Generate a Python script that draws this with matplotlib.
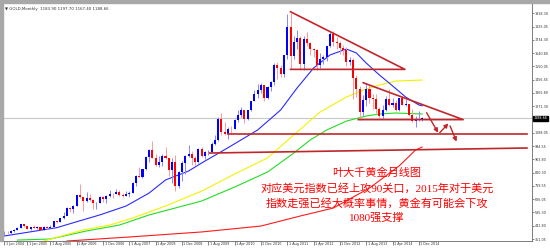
import numpy as np
import pandas as pd
import matplotlib
matplotlib.use('Agg')
import matplotlib.pyplot as plt
import matplotlib.transforms as mtrans
from matplotlib.patches import Rectangle

# monthly candles, Jun 2004 .. Jan 2015
months = pd.date_range('2004-06-01', '2015-01-01', freq='MS')

opens = [393, 395, 391, 408, 415, 428, 453,
         438, 422, 434, 428, 435, 417, 436, 429, 433, 473, 470, 495,
         513, 568, 556, 583, 654, 643, 614, 633, 623, 599, 604, 646,
         632, 650, 665, 663, 680, 659, 650, 666, 673, 743, 789, 783,
         834, 923, 971, 916, 865, 886, 930, 914, 833, 884, 717, 815,
         882, 927, 942, 916, 883, 979, 927, 954, 955, 1008, 1040, 1182,
         1096, 1081, 1118, 1113, 1180, 1212, 1244, 1181, 1248, 1308, 1357, 1385,
         1421, 1332, 1409, 1439, 1556, 1536, 1500, 1628, 1826, 1620, 1722, 1746,
         1565, 1738, 1710, 1669, 1664, 1561, 1604, 1614, 1691, 1773, 1719, 1713,
         1675, 1663, 1578, 1595, 1472, 1393, 1234, 1313, 1395, 1327, 1323, 1253,
         1202, 1244, 1326, 1284, 1296, 1250, 1327, 1282, 1287, 1210, 1172, 1183,
         1183.90]
highs = [405, 410, 415, 419, 434, 456, 456,
         438, 437, 446, 438, 437, 441, 439, 448, 474, 479, 497, 541,
         573, 574, 585, 655, 730, 646, 677, 663, 630, 610, 650, 649,
         655, 690, 672, 696, 691, 672, 684, 684, 747, 795, 848, 838,
         928, 976, 1033, 941, 929, 939, 988, 916, 913, 935, 823, 890,
         931, 1006, 964, 924, 983, 990, 961, 966, 1024, 1070, 1195, 1227,
         1162, 1127, 1139, 1182, 1249, 1265, 1244, 1250, 1310, 1388, 1424, 1432,
         1423, 1411, 1447, 1575, 1577, 1560, 1632, 1912, 1921, 1764, 1803, 1763,
         1764, 1791, 1717, 1680, 1668, 1640, 1630, 1692, 1790, 1796, 1755, 1723,
         1696, 1681, 1617, 1605, 1488, 1416, 1348, 1434, 1424, 1361, 1361, 1267,
         1280, 1345, 1392, 1331, 1315, 1332, 1345, 1324, 1287, 1255, 1208, 1238,
         1197.70]
lows = [381, 386, 388, 397, 411, 425, 431,
        418, 411, 424, 421, 414, 414, 418, 426, 432, 460, 466, 490,
        515, 538, 535, 581, 635, 543, 605, 612, 560, 561, 604, 610,
        603, 645, 637, 662, 651, 640, 648, 645, 670, 719, 780, 774,
        832, 883, 911, 860, 849, 855, 909, 786, 740, 681, 705, 752,
        802, 918, 865, 866, 878, 918, 905, 935, 952, 1003, 1033, 1075,
        1074, 1044, 1088, 1112, 1162, 1201, 1157, 1176, 1243, 1308, 1331, 1362,
        1309, 1325, 1382, 1417, 1462, 1477, 1478, 1601, 1534, 1604, 1671, 1523,
        1528, 1690, 1627, 1612, 1527, 1540, 1564, 1587, 1685, 1692, 1672, 1635,
        1627, 1555, 1562, 1321, 1338, 1180, 1208, 1272, 1292, 1251, 1227, 1187,
        1182, 1238, 1277, 1268, 1240, 1241, 1281, 1273, 1206, 1161, 1132, 1170,
        1167.40]
closes = [395, 391, 408, 415, 428, 453, 438,
          422, 434, 428, 435, 417, 436, 429, 433, 473, 470, 495, 513,
          568, 556, 583, 654, 643, 614, 633, 623, 599, 604, 646, 632,
          650, 665, 663, 680, 659, 650, 666, 673, 743, 789, 783, 834,
          923, 971, 916, 865, 886, 930, 914, 833, 884, 717, 815, 882,
          927, 942, 916, 883, 979, 927, 954, 955, 1008, 1040, 1182, 1096,
          1081, 1118, 1113, 1180, 1212, 1244, 1181, 1248, 1308, 1357, 1385, 1421,
          1332, 1409, 1439, 1556, 1536, 1500, 1628, 1826, 1620, 1722, 1746, 1565,
          1738, 1710, 1669, 1664, 1561, 1604, 1614, 1691, 1773, 1719, 1713, 1675,
          1663, 1578, 1595, 1472, 1393, 1234, 1313, 1395, 1327, 1323, 1253, 1202,
          1244, 1326, 1284, 1296, 1250, 1327, 1282, 1287, 1210, 1172, 1183, 1184,
          1188.66]

# moving averages
ma_blue_dates = ['2004-06', '2005-10', '2006-04', '2006-11', '2007-07', '2008-02', '2008-07',
                 '2009-02', '2009-06', '2010-02', '2010-11', '2011-06', '2011-11', '2012-04',
                 '2012-09', '2013-02', '2013-05', '2013-08', '2013-12', '2014-03', '2014-08',
                 '2014-12', '2015-01']
ma_blue = [372, 430, 471, 518, 580, 670, 761, 823, 879, 985, 1108, 1247, 1400, 1538,
           1629, 1670, 1643, 1573, 1490, 1434, 1337, 1282, 1276]
ma_yellow_dates = ['2005-06', '2006-06', '2007-02', '2007-09', '2008-07', '2009-06', '2010-04',
                   '2011-02', '2011-11', '2012-06', '2013-02', '2013-08', '2013-12', '2014-05',
                   '2015-01']
ma_yellow = [337, 414, 448, 497, 580, 684, 802, 914, 1094, 1233, 1337, 1393, 1420, 1448, 1455]
ma_green_dates = ['2004-10', '2005-08', '2006-07', '2007-05', '2008-02', '2009-06', '2010-04',
                  '2011-02', '2011-10', '2012-03', '2012-08', '2013-02', '2013-08', '2013-12',
                  '2014-05', '2015-01']
ma_green = [344, 351, 407, 448, 518, 615, 712, 816, 948, 1039, 1108, 1170, 1205, 1219, 1226, 1219]
ma_red_dates = ['2006-01', '2007-08', '2009-06', '2010-12', '2011-12', '2012-10', '2013-09',
                '2014-06', '2014-11', '2015-01']
ma_red = [337, 365, 400, 441, 511, 566, 705, 858, 969, 990]

# hand drawn lines (date, price)
tri_upper = [('2011-09-01', 1929), ('2014-07-25', 1529), ('2011-09-01', 1529)]
tri_lower = [('2013-07-04', 1436), ('2016-01-16', 1180), ('2013-05-19', 1180)]
support_1080 = [('2010-02-01', 1080), ('2017-08-28', 1080)]
support_low = [('2009-08-15', 948), ('2017-08-28', 983)]
arrows = [(('2015-02-12', 1228), ('2015-05-28', 1089)),
          (('2015-06-12', 1089), ('2015-09-01', 1154)),
          (('2015-09-16', 1136), ('2015-11-16', 1027))]

x_tick_dates = ['2004-06', '2005-01', '2005-08', '2006-04', '2006-12', '2007-08', '2008-04',
                '2008-12', '2009-08', '2010-04', '2010-12', '2011-08', '2012-04', '2012-12',
                '2013-08', '2014-04', '2014-12']
y_ticks = [351.05, 441.80, 535.30, 626.05, 719.55, 810.30, 903.80, 994.55, 1088.05,
           1271.30, 1365.80, 1456.55, 1550.05, 1640.80, 1734.30, 1825.05, 1918.30]

title = 'GOLD,Monthly  1183.90 1197.70 1167.40 1188.66'
note = ['叶大千黄金月线图',
        '对应美元指数已经上攻90关口，2015年对于美元',
        '指数走强已经大概率事情，黄金有可能会下攻',
        '1080强支撑']


def midx(s):
    d = pd.Timestamp(s)
    return (d.year - 2004) * 12 + d.month - 6 + (d.day - 1) / 31.0


W, H = 550, 249
fig = plt.figure(figsize=(W / 100, H / 100), dpi=100, facecolor='white')
ax = fig.add_axes([3 / W, 1 - 241 / H, 529 / W, 238 / H])
ax.set_facecolor('white')

x = np.arange(len(months))
o = np.array(opens); h = np.array(highs); l = np.array(lows); c = np.array(closes)
up = c >= o
body_col = np.where(up, '#0000ff', '#ff0000')
wick_col = np.where(up, '#8888ff', '#ff9a9a')

# current price line
ax.axhline(closes[-1], color='#c8c8c8', lw=0.8, zorder=1)

# moving averages
for dates, vals, col in [(ma_red_dates, ma_red, '#ff1a1a'),
                         (ma_green_dates, ma_green, '#22dd22'),
                         (ma_yellow_dates, ma_yellow, '#f2f200'),
                         (ma_blue_dates, ma_blue, '#2a2aff')]:
    ax.plot([midx(d) for d in dates], vals, color=col, lw=0.8, zorder=2)

ax.vlines(x, l, h, colors=wick_col, lw=0.7, zorder=3)
ax.bar(x, np.maximum(np.abs(c - o), 2), bottom=np.minimum(o, c), width=0.62,
       color=body_col, lw=0, zorder=4)

dark_red = '#c0262a'
for pts in (tri_upper, tri_lower):
    xs = [midx(p[0]) for p in pts]
    ys = [p[1] for p in pts]
    ax.plot(xs, ys, color=dark_red, lw=1.2, zorder=5)
for seg in (support_1080, support_low):
    ax.plot([midx(p[0]) for p in seg], [p[1] for p in seg], color=dark_red, lw=1.2, zorder=5)
for (a, b) in arrows:
    ax.annotate('', xy=(midx(b[0]), b[1]), xytext=(midx(a[0]), a[1]),
                arrowprops=dict(arrowstyle='-|>', color=dark_red, lw=1.0,
                                mutation_scale=6, shrinkA=0, shrinkB=0), zorder=6)

ax.set_xlim(-0.4, 160.4)
ax.set_ylim(337.2, 1989.8)

ax.set_xticks([midx(d) for d in x_tick_dates])
ax.set_xticklabels(['1 ' + pd.Timestamp(d).strftime('%b %Y') for d in x_tick_dates])
ax.tick_params(axis='x', length=3, width=0.5, color='#555555', pad=-2.5,
               labelsize=2.4, labelcolor='#333333')
off = mtrans.ScaledTranslation(1.5 / 100, 0, fig.dpi_scale_trans)
for lab in ax.get_xticklabels():
    lab.set_ha('left')
    lab.set_transform(lab.get_transform() + off)

ax.yaxis.tick_right()
ax.set_yticks(y_ticks)
ax.set_yticklabels(['%.2f' % v for v in y_ticks])
ax.tick_params(axis='y', length=1.2, width=0.5, color='#555555', pad=0.6,
               labelsize=2.4, labelcolor='#333333')

for side in ('left', 'top'):
    ax.spines[side].set_visible(False)
for side in ('right', 'bottom'):
    ax.spines[side].set_color('#666666')
    ax.spines[side].set_linewidth(0.6)

# current price marker on the price axis
ax.text(1.003, closes[-1], '%.2f' % closes[-1], transform=ax.get_yaxis_transform(),
        fontsize=2.4, color='white', va='center', ha='left',
        bbox=dict(boxstyle='square,pad=0.2', fc='black', ec='black'))

ax.text(0.003, 0.985, '\u25bc ' + title, transform=ax.transAxes, fontsize=2.8,
        color='#333333', va='top', ha='left')

# gray frame on top and left
fig.patches.append(Rectangle((0, 1 - 3 / H), 1, 3 / H, transform=fig.transFigure,
                             color='#a8a8a8', zorder=0))
fig.patches.append(Rectangle((0, 1 - 241 / H), 3 / W, 238 / H, transform=fig.transFigure,
                             color='#a8a8a8', zorder=0))

ys_px = [173, 188.5, 203, 218]
for line, yp in zip(note, ys_px):
    fig.text(377 / W, 1 - yp / H, line, fontsize=8.0, color='#ff0000', ha='center',
             va='center', family=['Liberation Serif', 'Noto Sans CJK SC'])

fig.savefig('out.png', dpi=100, facecolor='white')
